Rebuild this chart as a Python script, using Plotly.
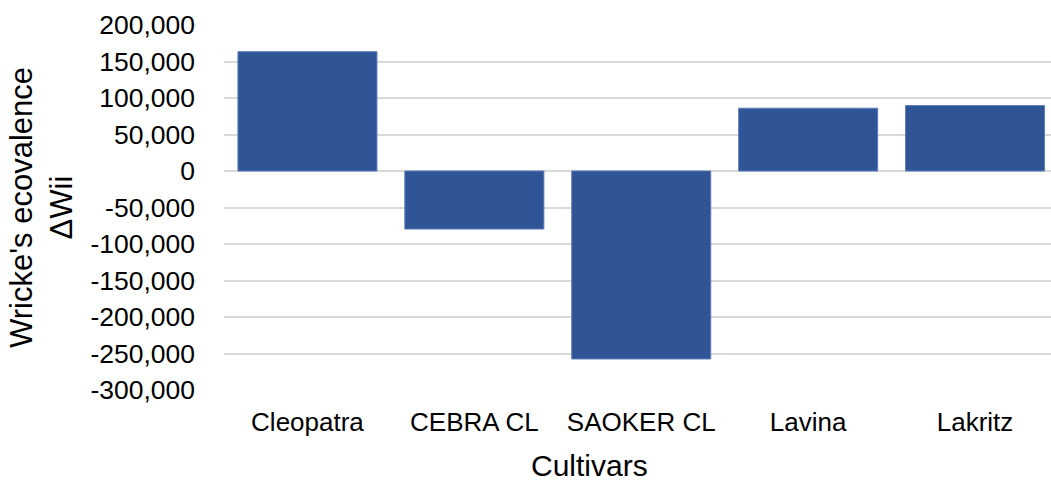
import plotly.graph_objects as go

cultivars = ["Cleopatra", "CEBRA CL", "SAOKER CL", "Lavina", "Lakritz"]
ecovalence = [163400, -79500, -257500, 86000, 89600]
y_tick_vals = [200000, 150000, 100000, 50000, 0, -50000, -100000, -150000, -200000, -250000, -300000]
y_tick_text = ["200,000", "150,000", "100,000", "50,000", "0", "-50,000", "-100,000",
               "-150,000", "-200,000", "-250,000", "-300,000"]

FONT = "Liberation Sans, Arial, Helvetica, sans-serif"
L, R, T, B = 224, 0, 25, 91
W, H = 1051, 481
plot_w = W - L - R

fig = go.Figure(go.Bar(
    x=cultivars, y=ecovalence,
    marker=dict(color="#2F5597", line=dict(color="#5B7DB8", width=1)),
))

fig.update_layout(
    width=W, height=H,
    margin=dict(l=L, r=R, t=T, b=B, pad=0),
    plot_bgcolor="white", paper_bgcolor="white",
    bargap=0.167,
    showlegend=False,
    font=dict(family=FONT, color="#000000"),
    xaxis=dict(
        range=[-0.5, -0.5 + plot_w / 166.9],
        showgrid=False, zeroline=False, showline=False,
        tickfont=dict(size=26, family=FONT, color="#000000"),
        ticks="", ticklabelstandoff=14,
    ),
    yaxis=dict(
        range=[-300000, 200000],
        tickvals=y_tick_vals, ticktext=y_tick_text,
        showgrid=True, gridcolor="#D9D9D9", gridwidth=2,
        zeroline=True, zerolinecolor="#D9D9D9", zerolinewidth=2,
        showline=False, ticks="",
        tickfont=dict(size=26.5, family=FONT, color="#000000"),
        ticklabelstandoff=28,
    ),
    annotations=[
        dict(text="Wricke's ecovalence<br>ΔWii", textangle=-90,
             xref="paper", yref="paper",
             x=(41.5 - L) / plot_w, y=0.5,
             xanchor="center", yanchor="middle", showarrow=False,
             font=dict(size=31, family=FONT, color="#000000")),
        dict(text="Cultivars",
             xref="paper", yref="paper",
             x=(589 - L) / plot_w, y=-(465 - (H - B)) / (H - T - B),
             xanchor="center", yanchor="middle", showarrow=False,
             font=dict(size=30, family=FONT, color="#000000")),
    ],
)

fig.write_html("out.html",
               config={"displayModeBar": False},
               post_script="document.body.style.margin='0';document.body.style.overflow='hidden';")
